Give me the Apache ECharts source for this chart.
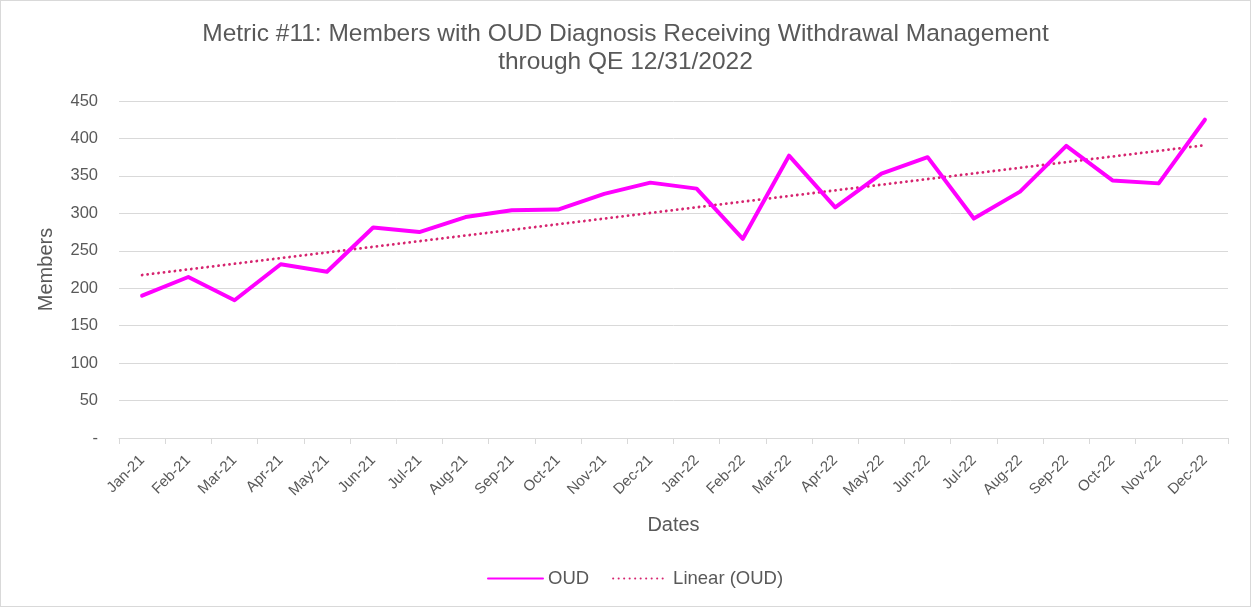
<!DOCTYPE html>
<html>
<head>
<meta charset="utf-8">
<script src="https://cdn.jsdelivr.net/npm/echarts@6/dist/echarts.min.js"></script>
<style>
  html, body { margin: 0; padding: 0; background: #fff; }
  #chart { width: 1249px; height: 605px; border: 1px solid #D9D9D9; }
</style>
</head>
<body>
<div id="chart"></div>
<script>
// Monthly categories
const months = ['Jan-21','Feb-21','Mar-21','Apr-21','May-21','Jun-21','Jul-21','Aug-21','Sep-21','Oct-21','Nov-21','Dec-21',
                'Jan-22','Feb-22','Mar-22','Apr-22','May-22','Jun-22','Jul-22','Aug-22','Sep-22','Oct-22','Nov-22','Dec-22'];
// Members with OUD diagnosis receiving withdrawal management
const oud = [190, 215, 184, 232, 222, 281, 275, 295, 304, 305, 326, 341,
             333, 266, 377, 308, 353, 375, 293, 329, 390, 344, 340, 425];
// Y axis ticks
const yTicks = [0, 50, 100, 150, 200, 250, 300, 350, 400, 450];

// Least-squares linear trend of the OUD series
function linearTrend(vals) {
  const n = vals.length;
  let sx = 0, sy = 0, sxy = 0, sxx = 0;
  vals.forEach((v, i) => { sx += i; sy += v; sxy += i * v; sxx += i * i; });
  const b = (n * sxy - sx * sy) / (n * sxx - sx * sx);
  const a = (sy - b * sx) / n;
  return vals.map((_, i) => +(a + b * i).toFixed(2));
}
const trend = linearTrend(oud);

const textColor = '#595959';
const font = 'Liberation Sans, Arial, sans-serif';

const chart = echarts.init(document.getElementById('chart'));
chart.setOption({
  animation: false,
  textStyle: { fontFamily: font },
  title: {
    text: 'Metric #11: Members with OUD Diagnosis Receiving Withdrawal Management\nthrough QE 12/31/2022',
    left: 'center',
    top: 14,
    textStyle: { color: textColor, fontSize: 24.5, fontWeight: 'normal', lineHeight: 28, fontFamily: font }
  },
  grid: { left: 118, right: 22, top: 100, bottom: 168 },
  legend: {
    bottom: 13,
    left: 481,
    itemWidth: 55,
    itemHeight: 4,
    itemGap: 23,
    itemStyle: { opacity: 0 },
    textStyle: { color: textColor, fontSize: 18.5, fontFamily: font },
    data: ['OUD', 'Linear (OUD)']
  },
  xAxis: {
    type: 'category',
    data: months,
    boundaryGap: true,
    name: 'Dates',
    nameLocation: 'middle',
    nameGap: 77,
    nameTextStyle: { color: textColor, fontSize: 20, fontFamily: font },
    axisLine: { lineStyle: { color: '#D9D9D9', width: 1 } },
    axisTick: { show: true, alignWithLabel: false, length: 6, lineStyle: { color: '#D9D9D9' } },
    axisLabel: { color: textColor, fontSize: 15, rotate: 45, margin: 20, interval: 0, fontFamily: font }
  },
  yAxis: {
    type: 'value',
    min: yTicks[0],
    max: yTicks[yTicks.length - 1],
    interval: yTicks[1] - yTicks[0],
    name: 'Members',
    nameLocation: 'middle',
    nameGap: 63,
    nameRotate: 90,
    nameTextStyle: { color: textColor, fontSize: 20, fontFamily: font },
    axisLine: { show: false },
    axisTick: { show: false },
    splitLine: { lineStyle: { color: '#D9D9D9', width: 1 } },
    axisLabel: {
      color: textColor, fontSize: 16.5, margin: 21, fontFamily: font,
      formatter: v => (v === 0 ? '-' : String(v))
    }
  },
  series: [
    {
      name: 'OUD',
      type: 'line',
      data: oud,
      symbol: 'none',
      lineStyle: { color: '#FF00FF', width: 4, join: 'round', cap: 'round' },
      itemStyle: { color: '#FF00FF' },
      z: 3
    },
    {
      name: 'Linear (OUD)',
      type: 'line',
      data: trend,
      symbol: 'none',
      lineStyle: { color: '#D6246F', width: 2.8, type: [0.1, 5.4], cap: 'round' },
      itemStyle: { color: '#D6246F' },
      z: 2
    }
  ]
});
</script>
</body>
</html>
